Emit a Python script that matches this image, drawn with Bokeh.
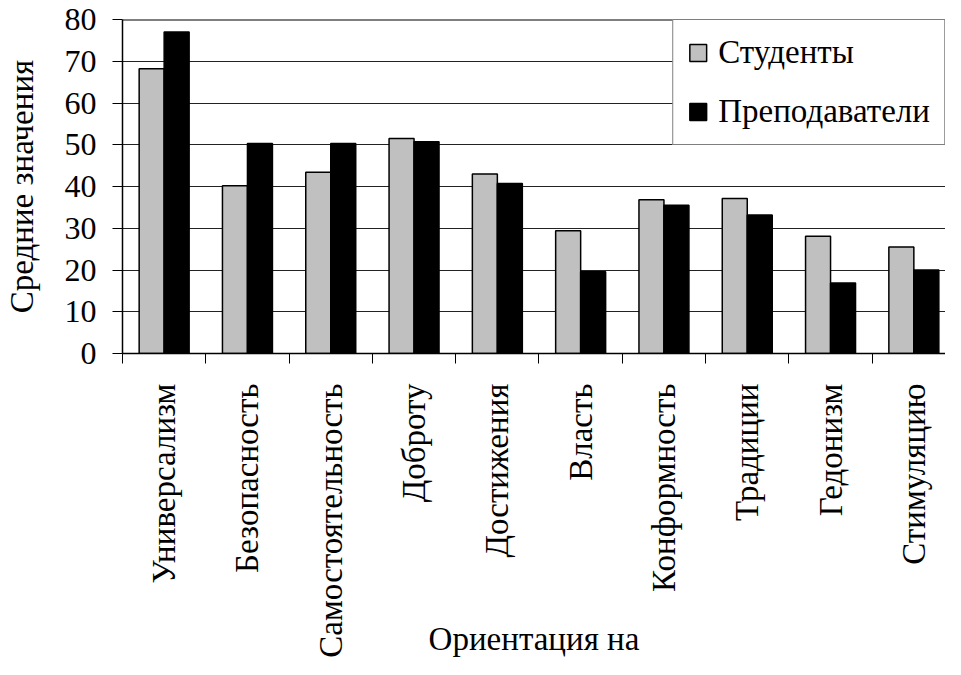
import numpy as np
from bokeh.plotting import figure
from bokeh.models import (ColumnDataSource, Range1d, FixedTicker, Legend,
                          LegendItem, Span)
from bokeh.transform import dodge
from bokeh.embed import file_html
from bokeh.resources import INLINE

categories = ["Универсализм", "Безопасность", "Самостоятельность", "Доброту",
              "Достижения", "Власть", "Конформность", "Традиции", "Гедонизм",
              "Стимуляцию"]
students = [68.2, 40.2, 43.4, 51.5, 43.0, 29.4, 36.8, 37.1, 28.1, 25.5]
teachers = [77.0, 50.3, 50.3, 50.7, 40.7, 19.6, 35.5, 33.2, 16.9, 20.0]
y_ticks = [0, 10, 20, 30, 40, 50, 60, 70, 80]
series_names = ["Студенты", "Преподаватели"]
y_label = "Средние значения"
x_label = "Ориентация на"

FONT = "Liberation Serif"

n = len(categories)
pos = np.arange(n) + 0.5
src = ColumnDataSource(dict(x=pos, s=students, t=teachers))

p = figure(width=945, height=659, output_backend="svg", toolbar_location=None,
           x_range=Range1d(0, 9.88), y_range=Range1d(0, 80),
           min_border_left=117, min_border_top=19, min_border_right=0,
           min_border_bottom=0)
p.outline_line_color = None

r1 = p.vbar(x=dodge("x", -0.15), top="s", width=0.3, source=src,
            fill_color="#c0c0c0", line_color="black", line_width=1.5)
r2 = p.vbar(x=dodge("x", 0.15), top="t", width=0.3, source=src,
            fill_color="black", line_color="black", line_width=1.5)

# x axis
p.xaxis.ticker = FixedTicker(ticks=list(pos), minor_ticks=list(range(n + 1)))
p.xaxis.major_label_overrides = {float(x): c for x, c in zip(pos, categories)}
p.xaxis.major_tick_line_color = None
p.xaxis.major_tick_out = 10
p.xaxis.major_tick_in = 0
p.xaxis.minor_tick_line_color = "black"
p.xaxis.minor_tick_out = 10
p.xaxis.minor_tick_in = 0
p.xaxis.minor_tick_line_width = 1
p.xaxis.major_label_orientation = np.pi / 2
p.xaxis.major_label_standoff = 20
p.xaxis.major_label_text_font = FONT
p.xaxis.major_label_text_font_size = "33px"
p.xaxis.major_label_text_color = "black"
p.xaxis.axis_line_color = "black"
p.xaxis.axis_line_width = 1.5
p.xaxis.axis_label = x_label
p.xaxis.axis_label_text_font = FONT
p.xaxis.axis_label_text_font_size = "33px"
p.xaxis.axis_label_text_font_style = "normal"
p.xaxis.axis_label_text_color = "black"
p.xaxis.axis_label_standoff = -40

# y axis
p.yaxis.ticker = FixedTicker(ticks=y_ticks)
p.yaxis.major_tick_out = 10
p.yaxis.major_tick_in = 0
p.yaxis.major_tick_line_color = "black"
p.yaxis.minor_tick_line_color = None
p.yaxis.major_label_standoff = 16
p.yaxis.major_label_text_font = FONT
p.yaxis.major_label_text_font_size = "32px"
p.yaxis.major_label_text_color = "black"
p.yaxis.axis_line_color = "black"
p.yaxis.axis_line_width = 1.5
p.yaxis.axis_label = y_label
p.yaxis.axis_label_text_font = FONT
p.yaxis.axis_label_text_font_size = "33px"
p.yaxis.axis_label_text_font_style = "normal"
p.yaxis.axis_label_text_color = "black"
p.yaxis.axis_label_standoff = 22

p.xgrid.grid_line_color = None
p.ygrid.grid_line_color = "#222222"
p.ygrid.grid_line_width = 1

p.add_layout(Span(location=80, dimension="width", line_color="black",
                  line_width=2))

legend = Legend(items=[LegendItem(label=series_names[0], renderers=[r1]),
                       LegendItem(label=series_names[1], renderers=[r2])],
                location="top_right", margin=0, padding=14, spacing=22,
                label_height=36, glyph_width=21, glyph_height=21,
                label_standoff=10, border_line_color="black",
                border_line_width=1.5, background_fill_color="white",
                background_fill_alpha=1.0, label_text_font=FONT,
                label_text_font_size="33px", label_text_color="black")
p.add_layout(legend)

open("out.html", "w").write(file_html(p, INLINE))
